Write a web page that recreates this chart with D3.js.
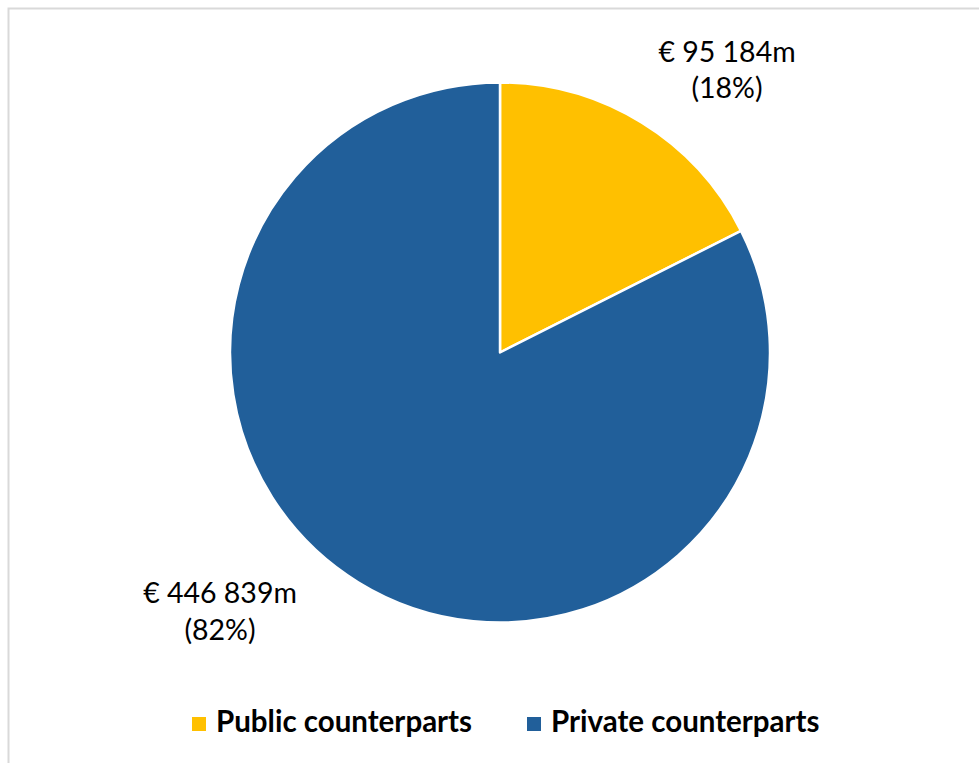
<!DOCTYPE html>
<html>
<head>
<meta charset="utf-8">
<script src="https://cdn.jsdelivr.net/npm/d3@7/dist/d3.min.js"></script>
<style>
  html, body { margin: 0; padding: 0; background: #fff; }
  svg { display: block; }
  text { font-family: Lato, "Open Sans", sans-serif; fill: #000; }
</style>
</head>
<body>
<svg id="chart" width="979" height="763"></svg>
<script>
// Counterpart split of exposures (EUR million)
const categories = ["Public counterparts", "Private counterparts"];
const amounts = [95184, 446839];
const amountLabels = ["€ 95 184m", "€ 446 839m"];
const shareLabels = ["(18%)", "(82%)"];
const colors = ["#FFC000", "#215F9A"];

const svg = d3.select("#chart");

// chart frame
svg.append("rect")
  .attr("x", 8.5).attr("y", 8.5)
  .attr("width", 990).attr("height", 780)
  .attr("fill", "none")
  .attr("stroke", "#d9d9d9")
  .attr("stroke-width", 2);

const cx = 500, cy = 352.5, r = 270;

const pie = d3.pie().sort(null).value(d => d)(amounts);
const arc = d3.arc().innerRadius(0).outerRadius(r);

const g = svg.append("g").attr("transform", `translate(${cx},${cy})`);
g.selectAll("path")
  .data(pie)
  .join("path")
  .attr("d", arc)
  .attr("fill", (d, i) => colors[i])
  .attr("stroke", "#fff")
  .attr("stroke-width", 2.5)
  .attr("stroke-linejoin", "round");

// data labels placed outside the slices
const labelPos = [
  { x: 727, y: 62 },
  { x: 220, y: 603 }
];
const lineGap = [36, 37];
labelPos.forEach((p, i) => {
  const t = svg.append("text")
    .attr("text-anchor", "middle")
    .attr("font-size", 28.5);
  t.append("tspan").attr("x", p.x).attr("y", p.y).text(amountLabels[i]);
  t.append("tspan").attr("x", p.x).attr("y", p.y + lineGap[i]).text(shareLabels[i]);
});

// legend
const legendItems = [
  { sx: 192, tx: 216 },
  { sx: 527, tx: 551 }
];
categories.forEach((c, i) => {
  svg.append("rect")
    .attr("x", legendItems[i].sx).attr("y", 717)
    .attr("width", 14).attr("height", 14)
    .attr("fill", colors[i]);
  svg.append("text")
    .attr("x", legendItems[i].tx).attr("y", 732)
    .attr("font-size", 29.5)
    .attr("font-weight", "bold")
    .text(c);
});
</script>
</body>
</html>
